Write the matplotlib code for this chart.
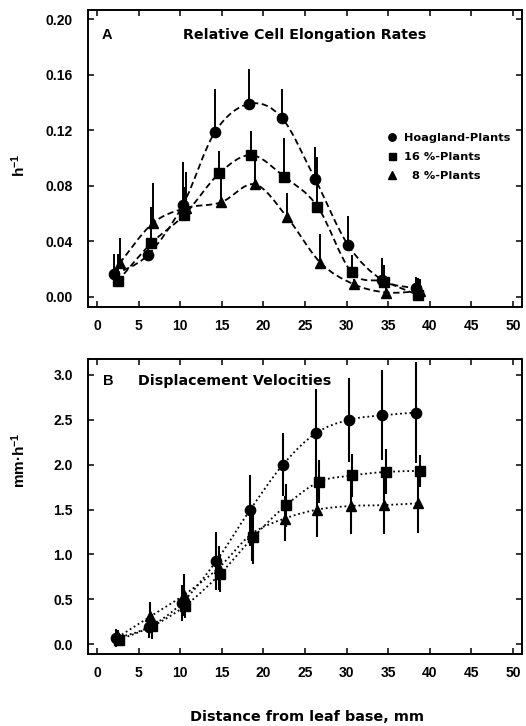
import numpy as np
import matplotlib
matplotlib.use("Agg")
import matplotlib.pyplot as plt
from matplotlib.path import Path
from matplotlib.patches import PathPatch

plt.rcParams["font.family"] = ["Liberation Sans", "DejaVu Sans"]
plt.rcParams["font.weight"] = "bold"
plt.rcParams["mathtext.fontset"] = "custom"
plt.rcParams["mathtext.rm"] = "Liberation Sans:bold"
plt.rcParams["mathtext.bf"] = "Liberation Sans:bold"
plt.rcParams["mathtext.default"] = "bf"

WIDE = ["DejaVu Sans"]

# ---------------- data ----------------
series_labels = ["Hoagland-Plants", "16 %-Plants", "\u20078 %-Plants"]
series_markers = ["o", "s", "^"]
marker_sizes = [7.4, 7.0, 7.4]

# Panel A: relative cell elongation rates (h^-1), upper error only
rer_x_hoag = [2.05, 6.1, 10.3, 14.2, 18.3, 22.2, 26.2, 30.2, 34.3, 38.4]
rer_y_hoag = [0.016, 0.030, 0.066, 0.119, 0.139, 0.129, 0.085, 0.037, 0.012, 0.006]
rer_e_hoag = [0.015, 0.010, 0.031, 0.031, 0.025, 0.021, 0.023, 0.021, 0.016, 0.008]

rer_x_16 = [2.45, 6.5, 10.5, 14.7, 18.55, 22.5, 26.5, 30.6, 34.5, 38.6]
rer_y_16 = [0.011, 0.0385, 0.059, 0.089, 0.102, 0.0865, 0.065, 0.0176, 0.0108, 0.0012]
rer_e_16 = [0.020, 0.026, 0.020, 0.016, 0.0175, 0.028, 0.036, 0.0125, 0.012, 0.012]

rer_x_8 = [2.7, 6.7, 10.7, 14.9, 18.95, 22.8, 26.85, 30.85, 34.8, 38.8]
rer_y_8 = [0.024, 0.053, 0.064, 0.068, 0.081, 0.0577, 0.0245, 0.0090, 0.003, 0.0040]
rer_e_8 = [0.018, 0.029, 0.026, 0.018, 0.018, 0.017, 0.0205, 0.004, 0.003, 0.009]

# Panel B: displacement velocities (mm h^-1), symmetric error
vel_x_hoag = [2.3, 6.2, 10.2, 14.35, 18.35, 22.35, 26.3, 30.3, 34.3, 38.3]
vel_y_hoag = [0.067, 0.19, 0.46, 0.93, 1.49, 2.00, 2.35, 2.50, 2.55, 2.58]
vel_e_hoag = [0.10, 0.12, 0.20, 0.32, 0.39, 0.35, 0.49, 0.47, 0.50, 0.56]

vel_x_16 = [2.6, 6.6, 10.6, 14.75, 18.75, 22.75, 26.7, 30.7, 34.7, 38.8]
vel_y_16 = [0.05, 0.20, 0.43, 0.78, 1.19, 1.55, 1.81, 1.88, 1.92, 1.93]
vel_e_16 = [0.06, 0.14, 0.14, 0.20, 0.30, 0.24, 0.24, 0.24, 0.25, 0.18]

vel_x_8 = [2.5, 6.4, 10.45, 14.6, 18.6, 22.55, 26.5, 30.5, 34.5, 38.6]
vel_y_8 = [0.08, 0.31, 0.55, 0.85, 1.23, 1.40, 1.50, 1.54, 1.55, 1.57]
vel_e_8 = [0.08, 0.165, 0.23, 0.25, 0.30, 0.25, 0.30, 0.31, 0.32, 0.33]

x_ticks = [0, 5, 10, 15, 20, 25, 30, 35, 40, 45, 50]
rer_ticks = [0.00, 0.04, 0.08, 0.12, 0.16, 0.20]
vel_ticks = [0.0, 0.5, 1.0, 1.5, 2.0, 2.5, 3.0]


def smooth_path(x, y):
    """Catmull-Rom curve through the points, expressed as cubic Bezier segments."""
    p = np.column_stack([x, y]).astype(float)
    ext = np.vstack([p[0], p, p[-1]])
    verts = [p[0]]
    codes = [Path.MOVETO]
    for i in range(len(p) - 1):
        p0, p1, p2, p3 = ext[i], ext[i + 1], ext[i + 2], ext[i + 3]
        verts += [p1 + (p2 - p0) / 6.0, p2 - (p3 - p1) / 6.0, p2]
        codes += [Path.CURVE4] * 3
    return Path(verts, codes)


def style_axes(ax, yticks, yfmt, ylim):
    ax.set_xlim(-1.1, 51.1)
    ax.set_ylim(*ylim)
    ax.set_xticks(x_ticks)
    ax.set_yticks(yticks)
    ax.set_yticklabels([yfmt.format(v) for v in yticks])
    ax.tick_params(direction="in", top=True, right=True, length=4, width=1.1,
                   labelsize=10)
    ax.tick_params(axis="x", pad=9)
    ax.tick_params(axis="y", pad=11)
    for lab in ax.get_xticklabels() + ax.get_yticklabels():
        lab.set_fontweight("bold")
    for s in ax.spines.values():
        s.set_linewidth(1.4)


fig = plt.figure(figsize=(5.26, 7.26), dpi=100)
axA = fig.add_axes([0.1673, 0.5776, 0.8251, 0.4087])
axB = fig.add_axes([0.1673, 0.0992, 0.8251, 0.4067])

# ---- Panel A ----
rer_sets = [(rer_x_hoag, rer_y_hoag, rer_e_hoag),
            (rer_x_16, rer_y_16, rer_e_16),
            (rer_x_8, rer_y_8, rer_e_8)]
for (x, y, e), m, ms, lab in zip(rer_sets, series_markers, marker_sizes, series_labels):
    axA.add_patch(PathPatch(smooth_path(x, y), fill=False, edgecolor="black",
                            linewidth=1.3, linestyle=(0, (3.5, 2.0)), zorder=2))
    axA.errorbar(x, y, yerr=[np.zeros(len(e)), e], fmt="none", ecolor="black",
                 elinewidth=1.4, capsize=0, zorder=3)
    axA.plot(x, y, linestyle="none", marker=m, markersize=ms, color="black",
             label=lab, zorder=4)
style_axes(axA, rer_ticks, "{:.2f}", (-0.0072, 0.2067))
axA.text(0.031, 0.916, "A", transform=axA.transAxes, fontsize=10.5,
         fontweight="bold", va="center", ha="left")
axA.text(0.499, 0.916, "Relative Cell Elongation Rates", transform=axA.transAxes,
         fontsize=10.3, fontweight="bold", family=WIDE, va="center", ha="center")
leg = axA.legend(loc="upper left", bbox_to_anchor=(0.676, 0.602), frameon=False,
                 handlelength=1.0, handletextpad=0.58, labelspacing=0.8,
                 borderaxespad=0, markerscale=0.72,
                 prop={"size": 8.2, "weight": "bold", "family": WIDE})

# ---- Panel B ----
vel_sets = [(vel_x_hoag, vel_y_hoag, vel_e_hoag),
            (vel_x_16, vel_y_16, vel_e_16),
            (vel_x_8, vel_y_8, vel_e_8)]
for (x, y, e), m, ms in zip(vel_sets, series_markers, marker_sizes):
    axB.add_patch(PathPatch(smooth_path(x, y), fill=False, edgecolor="black",
                            linewidth=1.3, linestyle=(0, (1.0, 1.6)), zorder=2))
    axB.errorbar(x, y, yerr=e, fmt="none", ecolor="black",
                 elinewidth=1.5, capsize=0, zorder=3)
    axB.plot(x, y, linestyle="none", marker=m, markersize=ms, color="black",
             zorder=4)
style_axes(axB, vel_ticks, "{:.1f}", (-0.108, 3.18))
axB.text(0.034, 0.9245, "B", transform=axB.transAxes, fontsize=10.5,
         fontweight="bold", va="center", ha="left")
axB.text(0.116, 0.9245, "Displacement Velocities", transform=axB.transAxes,
         fontsize=10.3, fontweight="bold", family=WIDE, va="center", ha="left")

# axis labels
fig.text(19 / 526, 1 - 165 / 726, "h$^{-1}$", rotation=90, fontsize=11,
         fontweight="bold", ha="center", va="center")
fig.text(19 / 526, 1 - 460 / 726, "mm\u00b7h$^{-1}$", rotation=90, fontsize=11,
         fontweight="bold", ha="center", va="center")
fig.text(307 / 526, 1 - 717 / 726, "Distance from leaf base, mm", fontsize=10.4,
         fontweight="bold", family=WIDE, ha="center", va="center")

fig.savefig("out.png", dpi=100)
